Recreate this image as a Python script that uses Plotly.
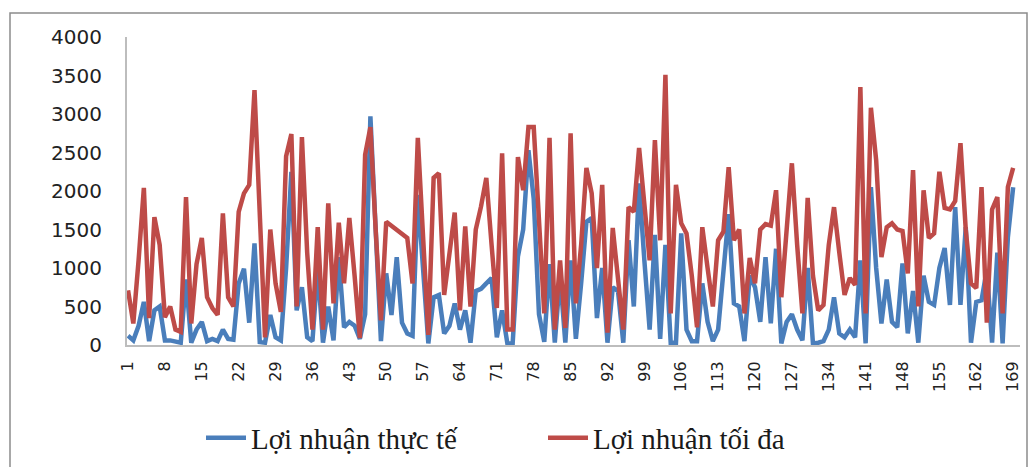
import plotly.graph_objects as go

# Profit per observation: actual vs. maximum attainable
loi_nhuan_thuc_te = [
    120, 60, 250, 560, 50, 450, 500, 60, 60, 50,
    30, 850, 30, 200, 300, 50, 80, 50, 200, 80,
    70, 800, 990, 290, 1320, 40, 30, 390, 100, 60,
    1000, 2250, 450, 750, 100, 50, 1000, 30, 500, 60,
    1140, 230, 300, 250, 80, 400, 2970, 1500, 50, 930,
    390, 1140, 290, 150, 120, 1950, 900, 20, 620, 650,
    150, 250, 540, 200, 450, 30, 700, 730, 800, 870,
    100, 450, 20, 20, 1150, 1500, 2530, 1900, 400, 40,
    1050, 30, 900, 30, 1100, 80, 800, 1600, 1650, 350,
    1000, 30, 750, 700, 30, 1360, 500, 2100, 1100, 200,
    1430, 80, 1300, 30, 30, 1450, 200, 50, 50, 800,
    300, 50, 200, 900, 1700, 540, 500, 50, 900, 750,
    300, 1140, 280, 1250, 20, 300, 400, 200, 60, 1000,
    20, 30, 50, 200, 620, 150, 100, 200, 100, 1100,
    20, 2050, 1000, 280, 850, 300, 230, 1060, 150, 700,
    30, 900, 560, 520, 1000, 1260, 520, 1790, 520, 1530,
    30, 560, 580, 980, 30, 1200, 20, 1400, 2050,
]

loi_nhuan_toi_da = [
    710, 280, 1100, 2040, 350, 1660, 1300, 360, 500, 200,
    170, 1920, 280, 1050, 1390, 620, 480, 390, 1710, 620,
    500, 1730, 1970, 2080, 3310, 1700, 100, 1500, 800, 430,
    2450, 2740, 500, 2700, 1200, 200, 1530, 200, 1840, 540,
    1590, 800, 1650, 900, 90, 2470, 2830, 1500, 320, 1600,
    1550, 1490, 1450, 1390, 800, 2690, 1400, 130, 2170, 2230,
    650, 1200, 1720, 450, 1540, 500, 1500, 1800, 2170, 1300,
    480, 2490, 200, 200, 2440, 2010, 2830, 2830, 1600, 410,
    2690, 200, 1100, 220, 2750, 540, 1300, 2300, 1970, 1000,
    2080, 160, 1520, 800, 200, 1790, 1730, 2560, 1800, 1100,
    2660, 1360, 3510, 410, 2080, 1580, 1450, 900, 230, 1530,
    1000, 500, 1360, 1470, 2310, 1360, 1500, 410, 1130, 800,
    1500, 1570, 1550, 2010, 620, 1500, 2360, 1300, 410, 1910,
    900, 450, 520, 1300, 1790, 1200, 650, 870, 780, 3350,
    410, 3080, 2400, 1140, 1530, 1580, 1500, 1480, 930, 2270,
    500, 2010, 1390, 1450, 2250, 1780, 1760, 1870, 2620, 1500,
    800, 740, 2050, 290, 1760, 1920, 410, 2050, 2300,
]

stt = list(range(1, len(loi_nhuan_toi_da) + 1))
x_tick_vals = list(range(1, len(stt) + 1, 7))
y_tick_vals = list(range(0, 4001, 500))

BLUE = "#4A7EBB"
RED = "#BE4B48"

fig = go.Figure()
fig.add_trace(go.Scatter(
    x=stt, y=loi_nhuan_thuc_te, mode="lines", name="Lợi nhuận thực tế",
    line=dict(color=BLUE, width=4.5),
))
fig.add_trace(go.Scatter(
    x=stt, y=loi_nhuan_toi_da, mode="lines", name="Lợi nhuận tối đa",
    line=dict(color=RED, width=4.5),
))

W, H = 1034, 467
ML, MR, MT, MB = 127, 14, 37, 122
pw, ph = W - ML - MR, H - MT - MB


def px_x(p):
    return (p - ML) / pw


def px_y(p):
    return 1 - (p - MT) / ph


fig.update_layout(
    width=W, height=H,
    margin=dict(l=ML, r=MR, t=MT, b=MB, autoexpand=False),
    paper_bgcolor="white", plot_bgcolor="white",
    showlegend=True,
    legend=dict(
        orientation="h",
        x=px_x(201), xanchor="left",
        y=px_y(438), yanchor="middle",
        font=dict(family="Liberation Serif", size=29, color="#1a1a1a"),
        entrywidth=287,
        itemwidth=40,
        bgcolor="rgba(0,0,0,0)",
    ),
    xaxis=dict(
        range=[0.8, 170.3],
        tickmode="array", tickvals=x_tick_vals,
        ticktext=[str(v) for v in x_tick_vals],
        tickangle=-90,
        tickfont=dict(family="DejaVu Sans", size=16, color="#222"),
        showgrid=False, zeroline=False, automargin=False,
        showline=True, linecolor="#BDBDBD", linewidth=2,
        ticks="outside", ticklen=8, tickcolor="rgba(0,0,0,0)",
    ),
    yaxis=dict(
        range=[0, 4000],
        tickmode="array", tickvals=y_tick_vals,
        tickfont=dict(family="DejaVu Sans", size=20, color="#222"),
        showgrid=False, zeroline=False, automargin=False,
        showline=True, linecolor="#BDBDBD", linewidth=2,
        ticks="outside", ticklen=19, tickcolor="rgba(0,0,0,0)",
    ),
    shapes=[dict(
        type="rect", xref="paper", yref="paper",
        x0=px_x(10), x1=px_x(1027), y0=px_y(475), y1=px_y(13),
        line=dict(color="#8C8C8C", width=1.5), fillcolor="rgba(0,0,0,0)",
        layer="below",
    )],
)

fig.write_html("out.html")
